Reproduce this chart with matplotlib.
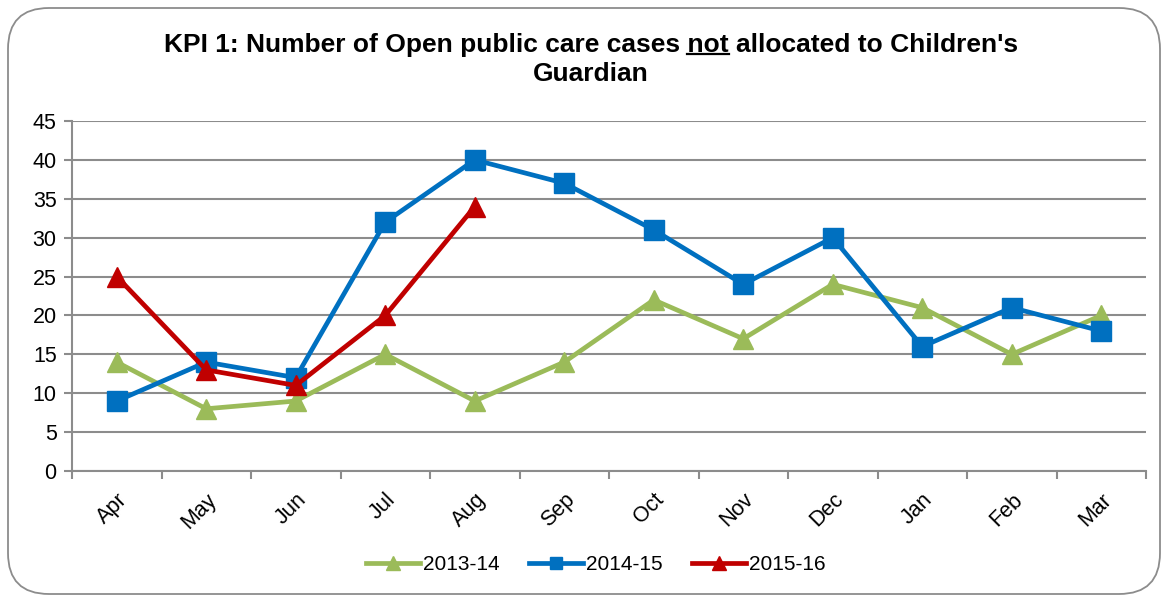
import matplotlib.pyplot as plt
import matplotlib.patches as mpatches
import numpy as np

plt.rcParams["font.family"] = ["Liberation Sans", "DejaVu Sans"]

# Dati
months = ["Apr", "May", "Jun", "Jul", "Aug", "Sep", "Oct", "Nov", "Dec", "Jan", "Feb", "Mar"]
y2013_14 = [14, 8, 9, 15, 9, 14, 22, 17, 24, 21, 15, 20]
y2014_15 = [9, 14, 12, 32, 40, 37, 31, 24, 30, 16, 21, 18]
y2015_16 = [25, 13, 11, 20, 34]

W, H = 1170, 598
fig = plt.figure(figsize=(W / 100, H / 100), dpi=100)
ax = fig.add_axes([72 / W, 1 - 471 / H, (1146 - 72) / W, (471 - 121) / H])

# Bordo arrotondato
border = mpatches.FancyBboxPatch((8 / W, 4 / H), (1160 - 8) / W, (590 - 4) / H,
                                 boxstyle="round,pad=0,rounding_size=0.035",
                                 transform=fig.transFigure, facecolor="none",
                                 edgecolor="#8c8c8c", linewidth=1.3, mutation_aspect=W / H)
fig.patches.append(border)

x = np.arange(len(months))
ax.plot(x, y2013_14, color="#9BBB59", lw=3.4, marker="^", ms=15, label="2013-14", zorder=3)
ax.plot(x, y2014_15, color="#0070C0", lw=3.4, marker="s", ms=14, label="2014-15", zorder=4)
ax.plot(x[:len(y2015_16)], y2015_16, color="#C00000", lw=3.4, marker="^", ms=15, label="2015-16", zorder=5)

ax.set_xlim(-0.5, len(months) - 0.5)
ax.set_ylim(0, 45)
ax.set_yticks(range(0, 46, 5))
ax.set_xticks(x)
ax.set_xticklabels(months, rotation=45, ha="right", rotation_mode="anchor", fontsize=15.5)
ax.set_xticks(np.arange(-0.5, len(months), 1), minor=True)
ax.tick_params(axis="x", which="major", length=0, pad=13)
ax.tick_params(axis="x", which="minor", length=6, color="#8c8c8c", width=1.5)
ax.tick_params(axis="y", length=6, color="#8c8c8c", width=1.5, labelsize=15.5, pad=5)

ax.grid(axis="y", color="#8c8c8c", linewidth=1.5)
ax.set_axisbelow(True)
for s in ["top", "right"]:
    ax.spines[s].set_visible(False)
for s in ["left", "bottom"]:
    ax.spines[s].set_color("#8c8c8c")
    ax.spines[s].set_linewidth(1.5)

leg = fig.legend(loc="center", bbox_to_anchor=(596 / W, 1 - 565 / H), ncol=3, frameon=False,
                 fontsize=15, handlelength=2.6, handletextpad=0.15, columnspacing=1.4, markerscale=0.65)

# Titolo con "not" sottolineato
fs = 19
line1_a = "KPI 1: Number of Open public care cases "
line1_b = "not"
line1_c = " allocated to Children's"
full = line1_a + line1_b + line1_c
cx, y1 = 591 / W, 1 - 45 / H
t = fig.text(cx, y1, full, ha="center", va="center", fontsize=fs, fontweight="bold")
fig.text(cx, 1 - 74 / H, "Guardian", ha="center", va="center", fontsize=fs, fontweight="bold")
fig.canvas.draw()
r = fig.canvas.get_renderer()
bb = t.get_window_extent(r)
tmp_a = fig.text(0, 0, line1_a.rstrip() + " ", fontsize=fs, fontweight="bold")
tmp_b = fig.text(0, 0, line1_b, fontsize=fs, fontweight="bold")
wa = tmp_a.get_window_extent(r).width
wb = tmp_b.get_window_extent(r).width
tmp_a.remove()
tmp_b.remove()
x0 = bb.x0 + wa
uy = bb.y0 + 3
fig.add_artist(plt.Line2D([x0 / W, (x0 + wb) / W], [uy / H, uy / H], color="black", lw=1.6,
                          transform=fig.transFigure))

fig.savefig("out.png", dpi=100)
